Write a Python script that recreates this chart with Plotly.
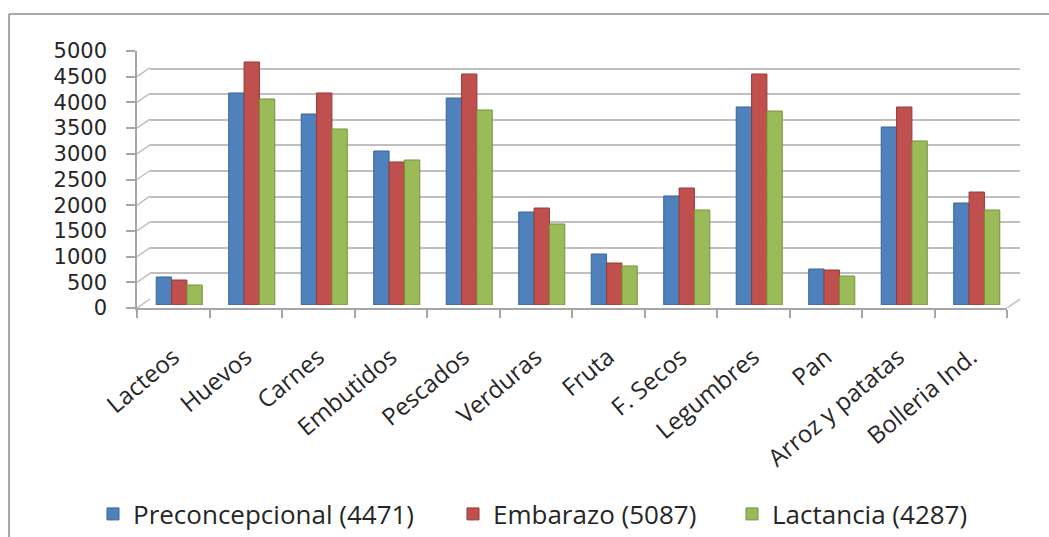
import plotly.graph_objects as go

categories = ["Lacteos", "Huevos", "Carnes", "Embutidos", "Pescados", "Verduras",
              "Fruta", "F. Secos", "Legumbres", "Pan", "Arroz y patatas", "Bolleria Ind."]
preconcepcional = [545, 4125, 3716, 2996, 4027, 1809, 992, 2121, 3852, 700, 3463, 1984]
embarazo = [486, 4728, 4125, 2782, 4494, 1887, 817, 2276, 4494, 681, 3852, 2198]
lactancia = [389, 4008, 3424, 2821, 3794, 1576, 759, 1848, 3774, 564, 3191, 1848]
series_names = ["Preconcepcional (4471)", "Embarazo (5087)", "Lactancia (4287)"]
y_ticks = list(range(0, 5001, 500))

colors = ["#4F81BD", "#C0504D", "#9BBB59"]
edge = ["#3A6595", "#953B39", "#76923C"]

W, H = 1049, 537
L, R, T, B = 137, 29, 43, 229
PW = W - L - R   # 883
PH = H - T - B   # 265
FONT = "Open Sans"
TXT = "#262626"

px = lambda p: (p - L) / PW
py = lambda p: (H - B - p) / PH

fig = go.Figure()

# back wall (gridlines) subplot x/y
fig.add_trace(go.Scatter(x=[0], y=[0], xaxis="x", yaxis="y", mode="markers",
                         marker=dict(opacity=0), showlegend=False, hoverinfo="skip"))
# front axes subplot x2/y2
fig.add_trace(go.Scatter(x=categories, y=[0] * len(categories), xaxis="x2", yaxis="y2",
                         mode="markers", marker=dict(opacity=0), showlegend=False,
                         hoverinfo="skip"))
# bars subplot x3/y3, each series with its own legend box
legend_ids = ["legend", "legend2", "legend3"]
for name, vals, c, e, lg in zip(series_names, [preconcepcional, embarazo, lactancia],
                                colors, edge, legend_ids):
    fig.add_trace(go.Bar(x=categories, y=vals, name=name, xaxis="x3", yaxis="y3",
                         legend=lg, showlegend=True,
                         marker=dict(color=c, line=dict(color=e, width=1))))

shapes = []
# side-wall diagonals linking front ticks to back-wall gridlines
for v in y_ticks:
    shapes.append(dict(type="line", xref="paper", xsizemode="pixel", xanchor=0, x0=0, x1=13,
                       yref="y2", ysizemode="pixel", yanchor=v, y0=0, y1=9,
                       line=dict(color="#BFBFBF", width=1.5)))
# floor right edge
shapes.append(dict(type="line", xref="paper", xsizemode="pixel", xanchor=870 / PW, x0=0, x1=13,
                   yref="y2", ysizemode="pixel", yanchor=0, y0=0, y1=9,
                   line=dict(color="#BFBFBF", width=1.5)))
# chart-area border (top and left)
shapes.append(dict(type="line", xref="paper", yref="paper", x0=px(9), x1=px(1049),
                   y0=py(14), y1=py(14), line=dict(color="#8C8C8C", width=1.5)))
shapes.append(dict(type="line", xref="paper", yref="paper", x0=px(9), x1=px(9),
                   y0=py(14), y1=py(537), line=dict(color="#8C8C8C", width=1.5)))

legend_font = dict(size=26, family=FONT, color=TXT)
legend_left = [93, 453, 732]

def legend_box(xpix):
    return dict(orientation="h", x=px(xpix), xanchor="left", y=py(514), yanchor="middle",
                font=legend_font, itemwidth=30, bgcolor="rgba(0,0,0,0)")

fig.update_layout(
    width=W, height=H,
    margin=dict(l=L, r=R, t=T, b=B, autoexpand=False),
    paper_bgcolor="white", plot_bgcolor="rgba(0,0,0,0)",
    font=dict(family=FONT, color=TXT),
    barmode="group", bargap=0.365, bargroupgap=0,
    showlegend=True,
    legend=legend_box(legend_left[0]),
    legend2=legend_box(legend_left[1]),
    legend3=legend_box(legend_left[2]),
    shapes=shapes,
    # back wall
    xaxis=dict(domain=[13 / PW, 1], range=[0, 1], visible=False, anchor="y", fixedrange=True),
    yaxis=dict(domain=[9 / PH, 1], range=[0, 5000], tickvals=y_ticks, showgrid=True,
               gridcolor="#BFBFBF", gridwidth=1.5, showticklabels=False, showline=False,
               zeroline=False, ticks="", anchor="x"),
    # front axes
    xaxis2=dict(domain=[0, 870 / PW], type="category", categoryorder="array",
                categoryarray=categories, range=[-0.5, len(categories) - 0.5],
                showline=True, linecolor="#A6A6A6", linewidth=1.5, ticks="outside",
                tickson="boundaries", ticklen=8, tickcolor="#A6A6A6", tickwidth=1.5,
                tickangle=-40, tickfont=dict(size=24, family=FONT, color=TXT),
                showgrid=False, zeroline=False, anchor="y2", ticklabelstandoff=24,
                automargin=False),
    yaxis2=dict(domain=[0, 257 / PH], range=[0, 5000], tickvals=y_ticks,
                ticktext=[str(v) for v in y_ticks],
                showline=True, linecolor="#A6A6A6", linewidth=1.5, ticks="outside",
                ticklen=9, tickcolor="#A6A6A6", tickwidth=1.5, showgrid=False,
                zeroline=False, tickfont=dict(size=21, family="DejaVu Sans", color=TXT),
                anchor="x2", ticklabelstandoff=15, automargin=False),
    # bars
    xaxis3=dict(domain=[6 / PW, 876 / PW], type="category", categoryorder="array",
                categoryarray=categories, range=[-0.5, len(categories) - 0.5],
                visible=False, anchor="y3"),
    yaxis3=dict(domain=[3 / PH, 260 / PH], range=[0, 5000], visible=False, anchor="x3"),
)

fig.write_html("out.html")
